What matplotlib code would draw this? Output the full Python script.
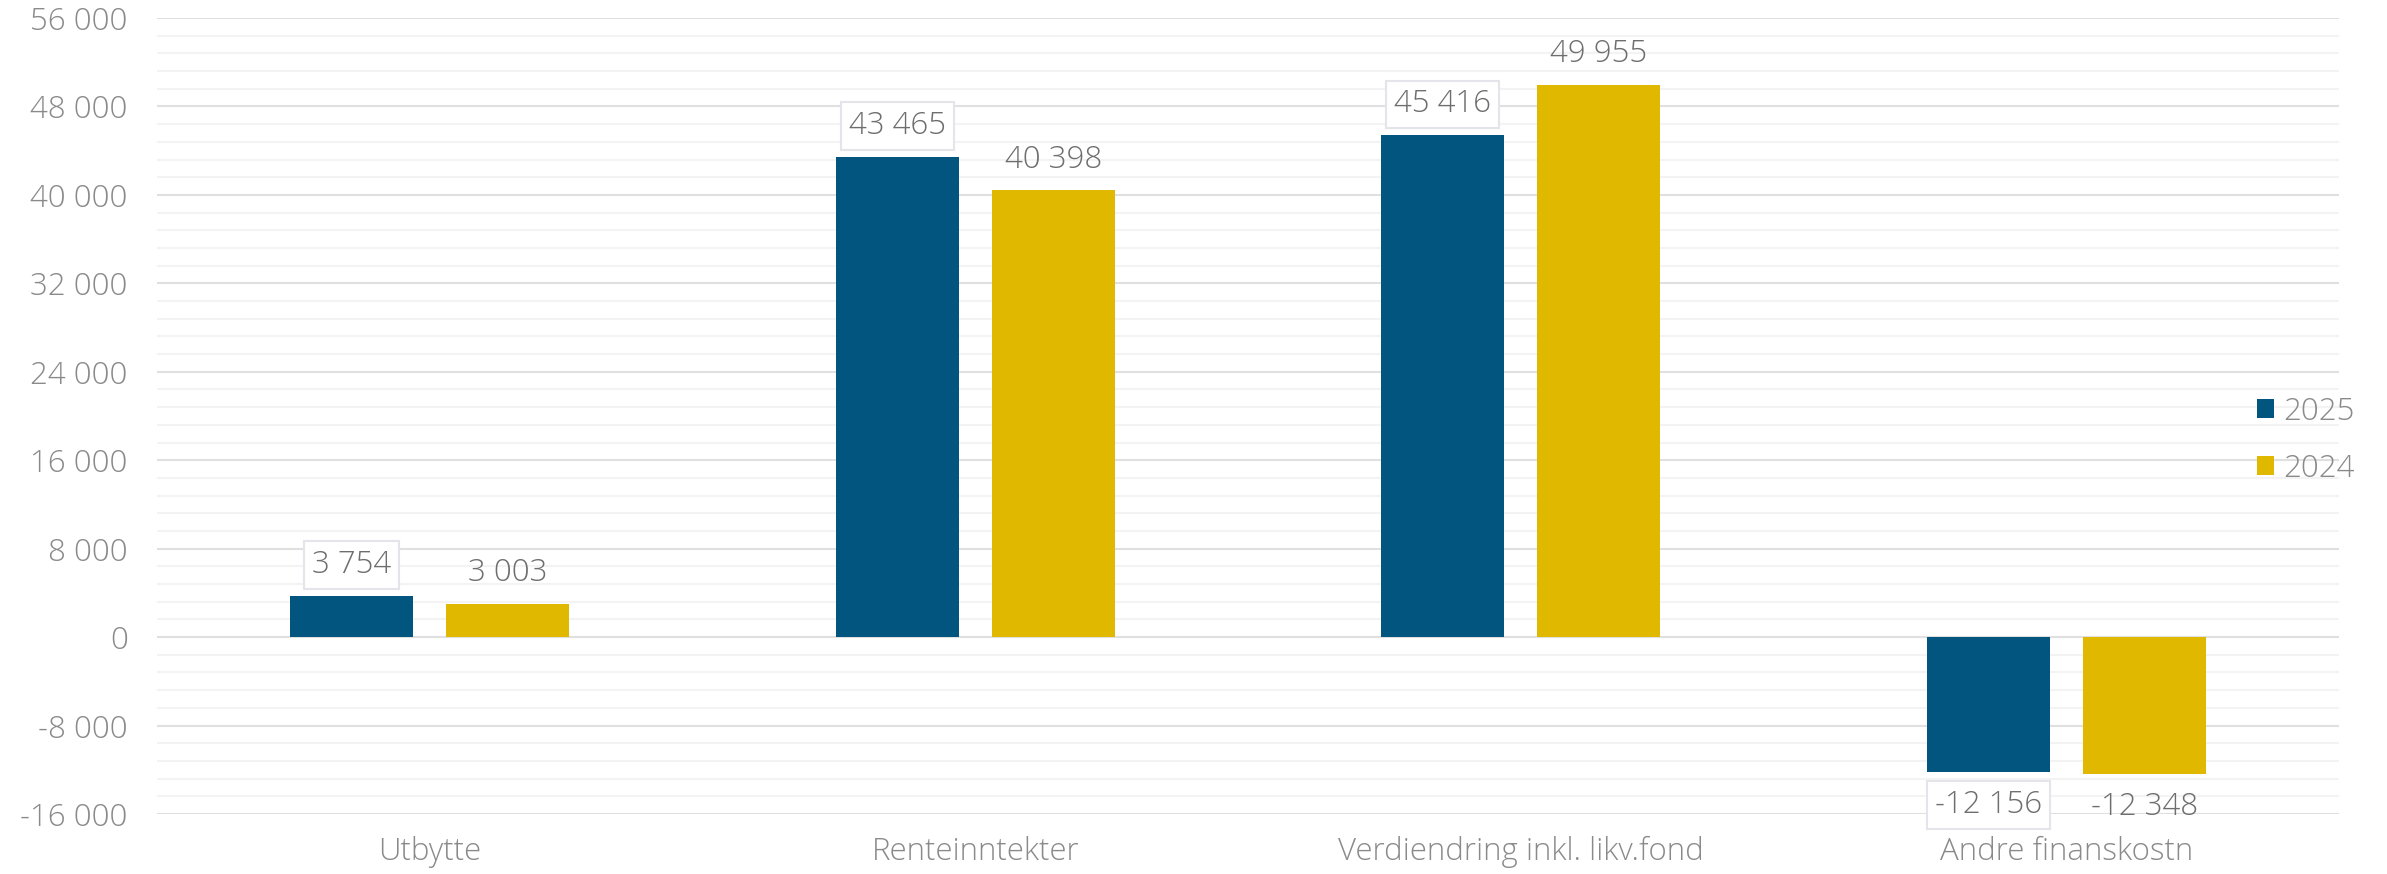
import matplotlib
matplotlib.use("Agg")
import matplotlib.pyplot as plt
import numpy as np
from matplotlib.ticker import MultipleLocator, FuncFormatter

categories = ["Utbytte", "Renteinntekter", "Verdiendring inkl. likv.fond", "Andre finanskostn"]
series_names = ["2025", "2024"]
values_2025 = [3754, 43465, 45416, -12156]
values_2024 = [3003, 40398, 49955, -12348]
colors = ["#02557f", "#e1b800"]

plt.rcParams['font.family'] = ['Open Sans', 'DejaVu Sans']
plt.rcParams['font.weight'] = 'light'

FS = 22.5

fig = plt.figure(figsize=(23.87, 8.74), dpi=100)
ax = fig.add_axes([157/2387, 1-814/874, (2339-157)/2387, (814-18)/874])

x = np.arange(len(categories))
w = 0.225
off = 0.143
b1 = ax.bar(x - off, values_2025, w, color=colors[0], zorder=3, label=series_names[0])
b2 = ax.bar(x + off, values_2024, w, color=colors[1], zorder=3, label=series_names[1])

def fmt(v):
    s = f"{abs(int(v)):,}".replace(",", " ")
    return ("-" if v < 0 else "") + s

for bars, vals, boxed in [(b1, values_2025, True), (b2, values_2024, False)]:
    for r, v in zip(bars, vals):
        xc = r.get_x() + r.get_width()/2
        dy = 22 if v >= 0 else -24
        kw = {}
        if boxed:
            kw['bbox'] = dict(boxstyle='square,pad=0.25', fc='white', ec='#e4e4ea', lw=1.5)
        ax.annotate(fmt(v), (xc, v), xytext=(0, dy), textcoords='offset points',
                    ha='center', va='center', fontsize=FS, color='#6e6e6e', zorder=4, **kw)

ax.set_xlim(-0.5, len(categories) - 0.5)
ax.set_ylim(-16000, 56000)
ax.yaxis.set_major_locator(MultipleLocator(8000))
ax.yaxis.set_minor_locator(MultipleLocator(1600))
ax.yaxis.set_major_formatter(FuncFormatter(lambda v, p: fmt(v)))
ax.grid(axis='y', which='major', color='#e0e0e0', lw=1.5, zorder=0)
ax.grid(axis='y', which='minor', color='#f3f3f3', lw=1.5, zorder=0)
ax.set_xticks(x)
ax.set_xticklabels(categories)
ax.tick_params(axis='both', which='both', length=0)
ax.tick_params(axis='y', pad=21, labelsize=FS, labelcolor='#8a8a8a')
ax.tick_params(axis='x', pad=16, labelsize=FS, labelcolor='#8a8a8a')
for s in ax.spines.values():
    s.set_visible(False)

leg = fig.legend(handles=[b1, b2], labels=series_names, loc='center left',
                 bbox_to_anchor=(2257/2387, 1-440/874), frameon=False,
                 fontsize=FS, labelcolor='#8a8a8a', handlelength=0.55, handleheight=0.55,
                 handletextpad=0.3, labelspacing=0.8, borderpad=0, borderaxespad=0)

fig.savefig("out.png", dpi=100, facecolor='white')
